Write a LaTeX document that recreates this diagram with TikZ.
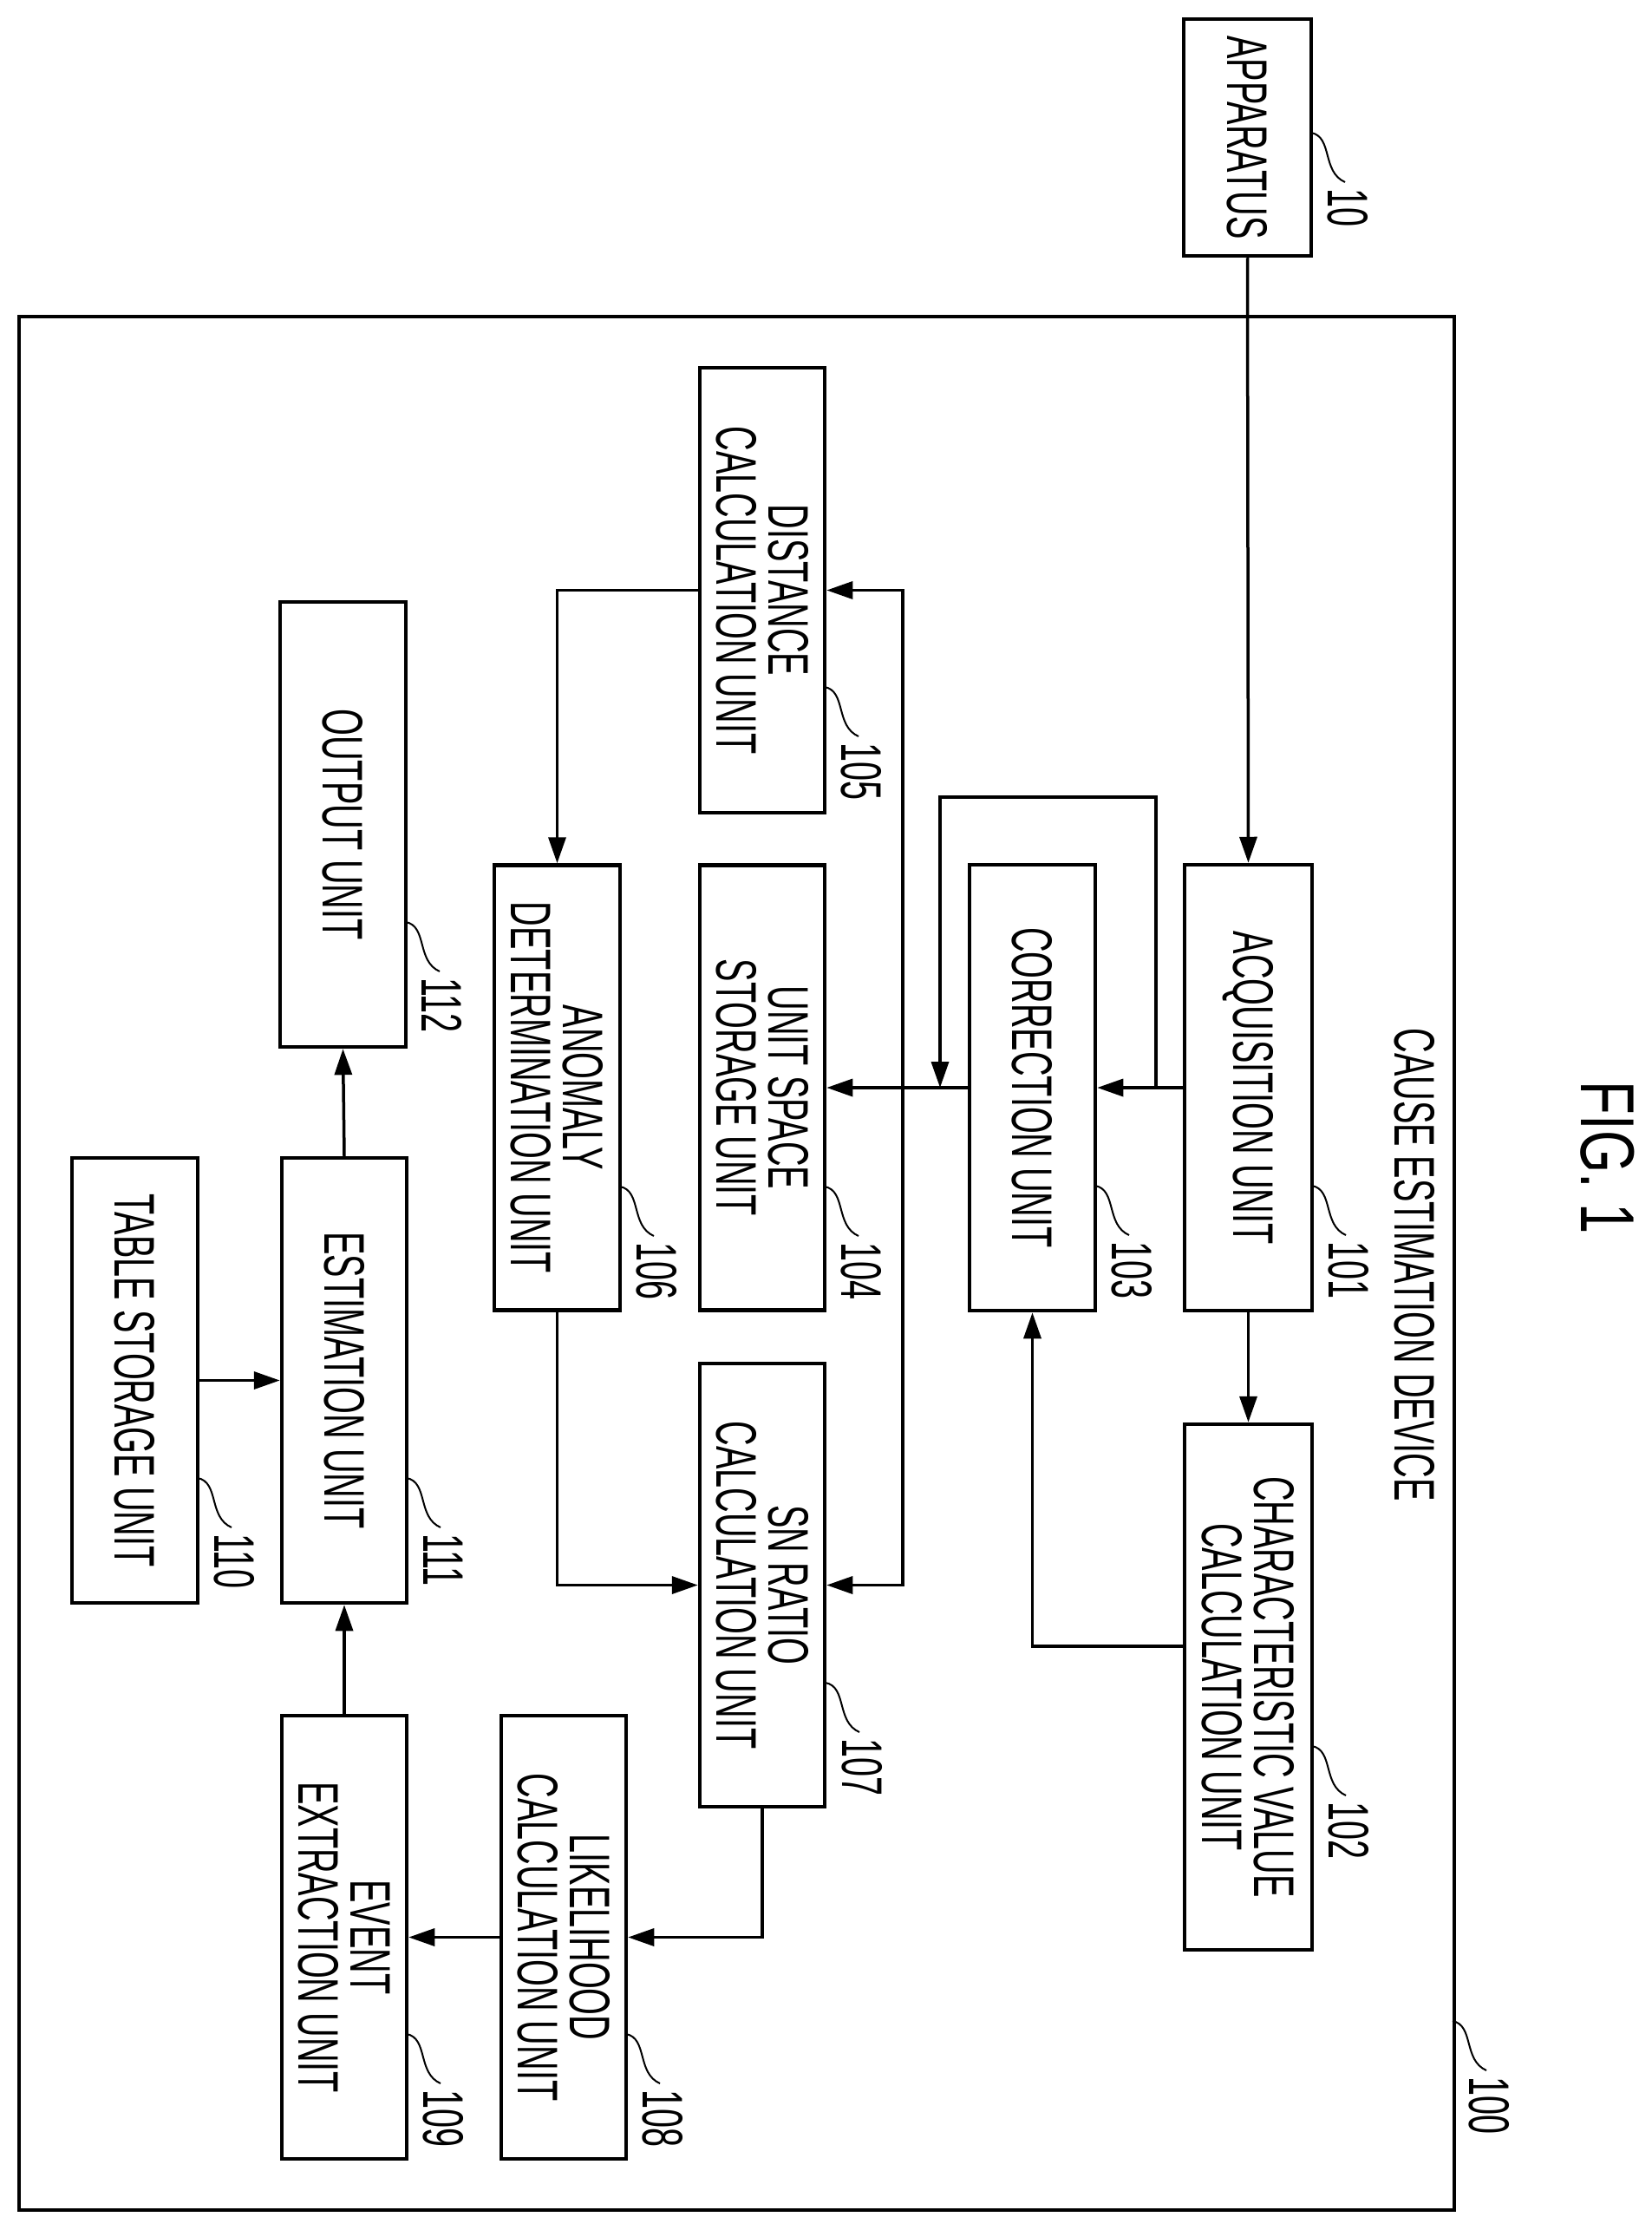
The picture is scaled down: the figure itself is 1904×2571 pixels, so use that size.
\documentclass[tikz,border=0pt]{standalone}
\usepackage{fontspec}
\setmainfont{Liberation Sans}[FakeStretch=0.6]
\newfontfamily\figfont{Liberation Sans}[FakeStretch=0.72]
\usetikzlibrary{arrows.meta}
\begin{document}
\begin{tikzpicture}[x=1pt,y=-1pt,
  box/.style={draw,line width=4.5pt,inner sep=0pt},
  txt/.style={rotate=-90,align=center,inner sep=0pt,font=\fontsize{66}{60}\selectfont},
  arr/.style={line width=3.5pt,-{Triangle[length=30pt,width=20pt]}},
  ln/.style={line width=3.5pt},
  lead/.style={line width=2pt}]
\useasboundingbox (0,0) rectangle (1904,2571);
\newcommand{\lead}[3]{%
  \draw[lead] (#1,#2) .. controls ({#1+25},{#2+5}) and ({#1+12},{#2+45}) .. ({#1+39},{#2+57});
  \node[txt,anchor=west] (l#3) at ({#1+42},{#2+64}) {#3};}
% outer device
\node[box,minimum width=1655pt,minimum height=2183pt] (n100) at (849.5,1456.5) {};
\node[txt] (tcause) at (1631,1458) {CAUSE ESTIMATION DEVICE};
\node[rotate=-90,inner sep=0pt,font=\figfont\fontsize{88}{90}\selectfont] (fig) at (1854,1335) {FIG. 1};
% boxes
\node[box,minimum width=147pt,minimum height=273pt] (app) at (1438.5,158.5) {};
\node[txt] at (app) {APPARATUS};
\node[box,minimum width=147pt,minimum height=514pt] (n101) at (1439.5,1254) {};
\node[txt] at (n101) {ACQUISITION UNIT};
\node[box,minimum width=147pt,minimum height=606pt] (n102) at (1439.5,1945) {};
\node[txt] at (n102) {CHARACTERISTIC VALUE\\CALCULATION UNIT};
\node[box,minimum width=145pt,minimum height=514pt] (n103) at (1190.5,1254) {};
\node[txt] at (n103) {CORRECTION UNIT};
\node[box,minimum width=144pt,minimum height=513pt] (n104) at (879,1254) {};
\node[txt] at (n104) {UNIT SPACE\\STORAGE UNIT};
\node[box,minimum width=144pt,minimum height=513pt] (n105) at (879,680.5) {};
\node[txt] at (n105) {DISTANCE\\CALCULATION UNIT};
\node[box,minimum width=145pt,minimum height=513pt] (n106) at (642.5,1254) {};
\node[txt] at (n106) {ANOMALY\\DETERMINATION UNIT};
\node[box,minimum width=144pt,minimum height=511pt] (n107) at (879,1827.5) {};
\node[txt] at (n107) {SN RATIO\\CALCULATION UNIT};
\node[box,minimum width=144pt,minimum height=511pt] (n108) at (650,2233.5) {};
\node[txt] at (n108) {LIKELIHOOD\\CALCULATION UNIT};
\node[box,minimum width=144pt,minimum height=511pt] (n109) at (397,2233.5) {};
\node[txt] at (n109) {EVENT\\EXTRACTION UNIT};
\node[box,minimum width=145pt,minimum height=513pt] (n110) at (155.5,1591.5) {};
\node[txt] at (n110) {TABLE STORAGE UNIT};
\node[box,minimum width=144pt,minimum height=513pt] (n111) at (397,1591.5) {};
\node[txt] at (n111) {ESTIMATION UNIT};
\node[box,minimum width=145pt,minimum height=513pt] (n112) at (395.5,950.5) {};
\node[txt] at (n112) {OUTPUT UNIT};
% connectors
\coordinate (j1) at (1333,1254);
\coordinate (j2) at (1084,1254);
\coordinate (j3) at (1041,1254);
\coordinate (c102) at (1366,1898);
\draw[arr] (app.south) -- (n101.north);
\draw[arr] (n101.south) -- (n102.north);
\draw[arr] (n101.west) -- (n103.east);
\draw[arr] (n103.west) -- (n104.east);
\draw[arr] (j1) -- (1333,919) -| (j2);
\draw[arr] (c102) -| (n103.south);
\draw[arr] (j3) |- (n105.east);
\draw[arr] (j3) |- (n107.east);
\draw[arr] (n105.west) -| (n106.north);
\draw[arr] (n106.south) |- (n107.west);
\draw[arr] (n107.south) |- (n108.east);
\draw[arr] (n108.west) -- (n109.east);
\draw[arr] (n109.north) -- (n111.south);
\draw[arr] (n110.east) -- (n111.west);
\draw[arr] (n111.north) -- (n112.south);
% reference numerals
\lead{1512}{153}{10}
\lead{1675}{2330}{100}
\lead{1513}{1367}{101}
\lead{1513}{2013}{102}
\lead{1263}{1367}{103}
\lead{951}{1368}{104}
\lead{951}{792}{105}
\lead{715}{1368}{106}
\lead{952}{1940}{107}
\lead{722}{2345}{108}
\lead{469}{2345}{109}
\lead{228}{1704}{110}
\lead{469}{1704}{111}
\lead{468}{1063}{112}
\end{tikzpicture}
\end{document}
